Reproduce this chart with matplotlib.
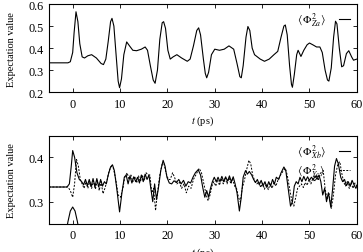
import matplotlib
matplotlib.use('Agg')
from matplotlib import pyplot as plt

plt.rcParams['font.family'] = ['Liberation Serif', 'DejaVu Serif']
plt.rcParams['mathtext.fontset'] = 'stix'
plt.rcParams['font.size'] = 7.5

# panel superior: <Phi^2_Za>
t_za = [-5, -1, -0.5, 0, 0.3, 0.7, 1.1, 1.5, 2.0, 2.5, 3.2, 4.0, 5.0, 6.0, 6.5, 7.0, 7.5, 8.0, 8.3, 8.7,
        9.2, 9.6, 9.9, 10.3, 10.8, 11.4, 12.0, 12.7, 13.5, 14.5, 15.3, 15.8, 16.4, 17.0, 17.4, 17.9, 18.4,
        18.9, 19.2, 19.6, 20.1, 20.6, 21.2, 22.0, 23.0, 24.2, 24.8, 25.5, 26.2, 26.6, 27.0, 27.6, 28.0,
        28.3, 28.7, 29.3, 30.0, 31.0, 32.0, 33.0, 34.0, 34.7, 35.3, 35.6, 36.0, 36.6, 37.0, 37.4, 37.9,
        38.4, 39.0, 39.6, 40.5, 41.5, 42.5, 43.3, 44.0, 44.6, 44.9, 45.3, 45.8, 46.2, 46.4, 46.8, 47.3,
        47.6, 48.2, 48.8, 49.5, 50.0, 50.7, 51.5, 52.2, 52.7, 53.3, 53.8, 54.1, 54.6, 55.1, 55.5, 55.8,
        56.3, 56.8, 57.2, 57.8, 58.3, 58.9, 59.3, 60]
phi_za = [0.333, 0.333, 0.338, 0.38, 0.47, 0.565, 0.52, 0.42, 0.36, 0.355, 0.365, 0.37, 0.355, 0.33, 0.325,
          0.35, 0.43, 0.52, 0.535, 0.5, 0.36, 0.25, 0.22, 0.26, 0.37, 0.428, 0.41, 0.39, 0.388, 0.395, 0.405,
          0.39, 0.32, 0.255, 0.24, 0.3, 0.44, 0.515, 0.52, 0.49, 0.39, 0.35, 0.36, 0.37, 0.355, 0.34, 0.35,
          0.41, 0.48, 0.492, 0.46, 0.35, 0.285, 0.265, 0.29, 0.37, 0.395, 0.39, 0.395, 0.41, 0.395, 0.33,
          0.27, 0.265, 0.32, 0.45, 0.498, 0.48, 0.4, 0.37, 0.36, 0.35, 0.34, 0.35, 0.37, 0.385, 0.45, 0.5,
          0.505, 0.46, 0.32, 0.235, 0.222, 0.28, 0.37, 0.39, 0.362, 0.39, 0.415, 0.423, 0.415, 0.405, 0.405,
          0.38, 0.3, 0.255, 0.25, 0.31, 0.45, 0.522, 0.51, 0.4, 0.315, 0.32, 0.375, 0.388, 0.36, 0.345, 0.35]

# panel inferior: <Phi^2_Xb> (continua)
t_xb = [-5, -1.2, -0.7, -0.3, 0, 0.4, 0.9, 1.4, 1.9, 2.3, 2.7, 3.1, 3.5, 3.9, 4.3, 4.7, 5.1, 5.5, 5.9, 6.3,
        6.7, 7.1, 7.5, 8.0, 8.4, 8.8, 9.3, 9.9, 10.4, 10.9, 11.3, 11.7, 12.1, 12.5, 12.9, 13.3, 13.7, 14.1,
        14.5, 14.9, 15.3, 15.7, 16.1, 16.5, 16.9, 17.3, 17.7, 18.1, 18.6, 19.1, 19.5, 19.9, 20.4, 20.9,
        21.4, 21.9, 22.4, 22.9, 23.4, 23.9, 24.4, 24.9, 25.4, 25.9, 26.5, 27.0, 27.5, 27.9, 28.3, 28.7,
        29.1, 29.5, 29.9, 30.3, 30.7, 31.1, 31.5, 31.9, 32.3, 32.7, 33.1, 33.5, 33.9, 34.3, 34.7, 35.2,
        35.6, 36.0, 36.5, 36.9, 37.3, 37.8, 38.2, 38.6, 39.0, 39.4, 39.8, 40.2, 40.6, 41.0, 41.4, 41.8,
        42.2, 42.6, 43.0, 43.5, 44.0, 44.6, 45.0, 45.5, 46.0, 46.4, 46.8, 47.2, 47.6, 48.0, 48.4, 48.8,
        49.2, 49.6, 50.0, 50.4, 50.8, 51.2, 51.6, 52.0, 52.4, 52.8, 53.2, 53.6, 54.0, 54.5, 54.9, 55.3,
        55.7, 56.1, 56.6, 57.0, 57.4, 57.8, 58.2, 58.6, 59.0, 59.4, 59.8, 60]
phi_xb = [0.333, 0.333, 0.34, 0.38, 0.415, 0.40, 0.365, 0.35, 0.345, 0.338, 0.35, 0.336, 0.35, 0.334, 0.352,
          0.333, 0.352, 0.333, 0.35, 0.335, 0.345, 0.34, 0.36, 0.378, 0.383, 0.37, 0.33, 0.277, 0.32, 0.355,
          0.36, 0.34, 0.358, 0.342, 0.356, 0.345, 0.355, 0.342, 0.36, 0.345, 0.362, 0.35, 0.36, 0.33, 0.3,
          0.34, 0.305, 0.33, 0.37, 0.393, 0.38, 0.355, 0.342, 0.34, 0.347, 0.343, 0.35, 0.34, 0.348, 0.335,
          0.345, 0.342, 0.355, 0.365, 0.372, 0.36, 0.33, 0.31, 0.325, 0.31, 0.33, 0.345, 0.355, 0.345, 0.355,
          0.345, 0.357, 0.345, 0.356, 0.346, 0.358, 0.345, 0.356, 0.34, 0.32, 0.279, 0.31, 0.355, 0.37,
          0.362, 0.368, 0.36, 0.35, 0.343, 0.35, 0.338, 0.348, 0.335, 0.345, 0.332, 0.345, 0.335, 0.35,
          0.34, 0.355, 0.35, 0.365, 0.378, 0.37, 0.33, 0.29, 0.3, 0.335, 0.345, 0.34, 0.355, 0.345, 0.357,
          0.347, 0.356, 0.348, 0.355, 0.35, 0.358, 0.35, 0.36, 0.345, 0.315, 0.33, 0.3, 0.32, 0.288, 0.33,
          0.38, 0.397, 0.385, 0.355, 0.345, 0.35, 0.336, 0.345, 0.335, 0.348, 0.338, 0.33, 0.335]

# panel inferior: <Phi^2_Yc> (discontinua)
t_yc = [-5, -1, -0.5, 0, 0.4, 0.8, 1.2, 1.6, 2.0, 2.4, 2.8, 3.2, 3.6, 4.0, 4.4, 4.8, 5.2, 5.6, 6.0, 6.4,
        6.8, 7.2, 7.7, 8.2, 8.6, 9.1, 9.6, 10.1, 10.6, 11.0, 11.5, 11.9, 12.3, 12.7, 13.1, 13.5, 13.9, 14.3,
        14.7, 15.1, 15.5, 15.9, 16.3, 16.7, 17.1, 17.5, 17.9, 18.4, 18.9, 19.3, 19.7, 20.2, 20.6, 21.1,
        21.5, 22.0, 22.5, 23.0, 23.5, 24.0, 24.5, 25.0, 25.5, 26.0, 26.7, 27.2, 27.7, 28.2, 28.6, 29.0,
        29.4, 29.8, 30.2, 30.6, 31.0, 31.4, 31.8, 32.2, 32.6, 33.0, 33.4, 33.8, 34.2, 34.6, 35.0, 35.4,
        35.8, 36.3, 36.8, 37.2, 37.6, 38.0, 38.5, 38.9, 39.3, 39.7, 40.1, 40.5, 40.9, 41.3, 41.7, 42.1,
        42.5, 42.9, 43.4, 43.9, 44.5, 44.9, 45.3, 45.8, 46.3, 46.7, 47.1, 47.5, 47.9, 48.3, 48.7, 49.1,
        49.5, 49.9, 50.3, 50.7, 51.1, 51.5, 51.9, 52.4, 52.9, 53.3, 53.7, 54.1, 54.6, 55.0, 55.5, 56.0,
        56.4, 56.8, 57.2, 57.6, 58.0, 58.4, 58.8, 59.2, 59.6, 60]
phi_yc = [0.333, 0.333, 0.325, 0.31, 0.34, 0.395, 0.38, 0.35, 0.34, 0.33, 0.345, 0.33, 0.345, 0.33, 0.347,
          0.328, 0.348, 0.325, 0.345, 0.318, 0.33, 0.345, 0.37, 0.38, 0.375, 0.35, 0.315, 0.31, 0.33, 0.355,
          0.365, 0.35, 0.36, 0.345, 0.357, 0.342, 0.358, 0.345, 0.36, 0.347, 0.365, 0.36, 0.36, 0.32, 0.33,
          0.28, 0.32, 0.36, 0.385, 0.385, 0.365, 0.35, 0.35, 0.365, 0.355, 0.34, 0.345, 0.33, 0.34, 0.32,
          0.335, 0.33, 0.35, 0.36, 0.375, 0.365, 0.34, 0.315, 0.302, 0.315, 0.335, 0.345, 0.335, 0.35, 0.337,
          0.352, 0.34, 0.353, 0.34, 0.354, 0.34, 0.35, 0.335, 0.33, 0.31, 0.3, 0.33, 0.35, 0.375, 0.393,
          0.385, 0.36, 0.345, 0.34, 0.345, 0.332, 0.342, 0.328, 0.34, 0.327, 0.34, 0.33, 0.343, 0.335, 0.35,
          0.36, 0.37, 0.375, 0.36, 0.33, 0.3, 0.29, 0.31, 0.33, 0.335, 0.34, 0.332, 0.343, 0.337, 0.35, 0.34,
          0.352, 0.345, 0.36, 0.35, 0.365, 0.37, 0.33, 0.305, 0.32, 0.285, 0.31, 0.36, 0.385, 0.39, 0.365,
          0.345, 0.335, 0.345, 0.33, 0.342, 0.33, 0.342, 0.335]

# pulso cerca de t=0
t_pulso = [-2, -1.5, -1, -0.5, 0, 0.5, 1, 1.5, 2]
v_pulso = [0.2, 0.225, 0.255, 0.279, 0.288, 0.279, 0.255, 0.225, 0.2]

fig = plt.figure(figsize=(3.63, 2.53), dpi=100)
ax1 = fig.add_axes([0.135, 0.632, 0.848, 0.348])
ax2 = fig.add_axes([0.135, 0.111, 0.848, 0.348])

ax1.plot(t_za, phi_za, color='black', lw=0.8, label=r'$\langle\,\Phi^2_{Za}\rangle$')
ax1.set_xlim(-5, 60)
ax1.set_ylim(0.2, 0.6)
ax1.set_yticks([0.2, 0.3, 0.4, 0.5, 0.6])

ax2.plot(t_xb, phi_xb, color='black', lw=0.8, label=r'$\langle\,\Phi^2_{Xb}\rangle$')
ax2.plot(t_yc, phi_yc, color='black', lw=0.7, ls=(0, (2, 1.5)), label=r'$\langle\,\Phi^2_{Yc}\rangle$')
ax2.plot(t_pulso, v_pulso, color='black', lw=0.8)
ax2.set_xlim(-5, 60)
ax2.set_ylim(0.25, 0.448)
ax2.set_yticks([0.3, 0.4])

for ax in (ax1, ax2):
    ax.set_xticks([0, 10, 20, 30, 40, 50, 60])
    ax.tick_params(direction='in', top=True, right=True, length=3, width=0.6, pad=4, labelsize=8.8)
    ax.set_xlabel(r'$t$ (ps)', labelpad=3, fontsize=7.5)
    ax.set_ylabel('Expectation value', labelpad=9, fontsize=7.5)
    ax.yaxis.set_major_formatter(plt.FormatStrFormatter('%.1f'))
    for s in ax.spines.values():
        s.set_linewidth(0.8)
    ax.legend(loc='upper right', frameon=False, markerfirst=False, handlelength=1.0,
              fontsize=8, borderaxespad=0.2, labelspacing=0.1, handletextpad=1.2)

fig.savefig('out.png', dpi=100)
